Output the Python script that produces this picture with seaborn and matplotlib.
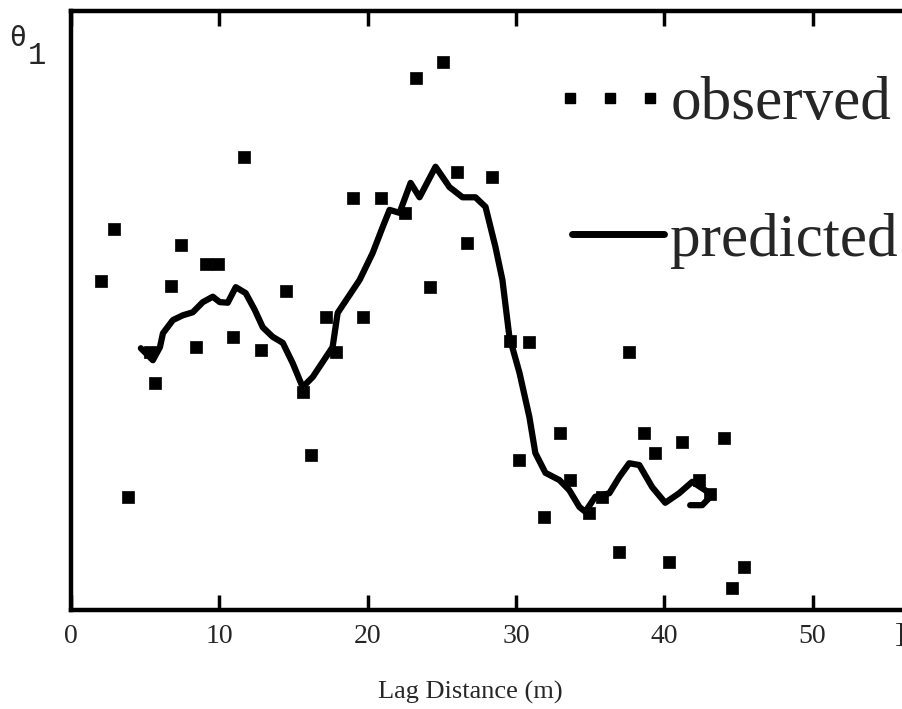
import matplotlib
matplotlib.use("Agg")
import matplotlib.pyplot as plt
from matplotlib.lines import Line2D
from matplotlib.legend_handler import HandlerLine2D
import seaborn as sns
import pandas as pd

# observed variogram points (lag distance m, theta1 in relative units)
obs_x = [2.02, 2.90, 3.84, 5.32, 5.66, 6.73, 7.41, 8.42, 9.09, 9.90, 10.91, 11.65,
         12.79, 14.48, 15.62, 16.16, 17.17, 17.85, 18.99, 19.66, 20.88, 22.49, 23.23,
         24.24, 25.05, 26.06, 26.73, 28.42, 29.63, 30.91, 30.24, 31.92, 33.00, 33.67,
         34.95, 35.82, 36.97, 37.64, 38.65, 39.39, 40.34, 41.21, 42.36, 43.10, 44.04,
         44.58, 45.39]
obs_y = [0.549, 0.636, 0.189, 0.431, 0.379, 0.541, 0.609, 0.439, 0.578, 0.578, 0.456, 0.756,
         0.434, 0.533, 0.364, 0.259, 0.489, 0.431, 0.688, 0.489, 0.688, 0.663, 0.888,
         0.539, 0.915, 0.731, 0.613, 0.723, 0.449, 0.447, 0.250, 0.155, 0.295, 0.217,
         0.162, 0.189, 0.097, 0.431, 0.295, 0.262, 0.080, 0.280, 0.217, 0.194, 0.287,
         0.037, 0.072]

# predicted curve
pred_x = [4.71, 5.52, 6.00, 6.20, 6.87, 7.54, 8.21, 8.89, 9.56, 10.03, 10.57, 11.11, 11.78,
          12.39, 12.93, 13.60, 14.28, 14.95, 15.62, 16.30, 17.64, 17.98, 19.46, 20.34,
          21.01, 21.48, 22.15, 22.90, 23.50, 24.58, 25.05, 25.52, 26.40, 27.27, 27.95,
          28.62, 29.09, 29.56, 30.24, 30.91, 31.31, 31.99, 32.93, 33.60, 34.28, 34.68,
          35.35, 36.30, 36.97, 37.64, 38.32, 39.19, 40.07, 41.01, 41.89, 42.76, 43.23,
          42.56, 41.75]
pred_y = [0.437, 0.417, 0.439, 0.462, 0.484, 0.492, 0.497, 0.514, 0.523, 0.514, 0.513, 0.539,
          0.529, 0.501, 0.472, 0.456, 0.446, 0.412, 0.372, 0.389, 0.439, 0.496, 0.551, 0.596,
          0.639, 0.668, 0.663, 0.713, 0.689, 0.740, 0.723, 0.706, 0.689, 0.689, 0.673,
          0.606, 0.551, 0.456, 0.396, 0.322, 0.262, 0.229, 0.217, 0.200, 0.172, 0.164,
          0.189, 0.195, 0.222, 0.245, 0.242, 0.205, 0.179, 0.195, 0.214, 0.200, 0.192,
          0.175, 0.175]

x_ticks = [0, 10, 20, 30, 40, 50]
x_label = "Lag Distance (m)"
legend_labels = ["observed", "predicted"]


class ShiftedMarkers(HandlerLine2D):
    """Legend handler placing the observed markers slightly left of the handle box."""

    def get_xdata(self, legend, xdescent, ydescent, width, height, fontsize):
        xd, xm = super().get_xdata(legend, xdescent, ydescent, width, height, fontsize)
        shift = -0.13 * fontsize
        return xd + shift, xm + shift


sns.set_theme(style="white")
plt.rcParams["font.family"] = ["Liberation Serif", "DejaVu Serif"]

fig = plt.figure(figsize=(9.03, 7.09), dpi=100)
ax = fig.add_axes([71 / 903, 99 / 709, 832 / 903, 599 / 709])

obs = pd.DataFrame({"x": obs_x, "y": obs_y})
pred = pd.DataFrame({"x": pred_x, "y": pred_y})

sns.lineplot(data=pred, x="x", y="y", sort=False, estimator=None, color="black",
             linewidth=4.5, ax=ax, legend=False, zorder=2)
sns.scatterplot(data=obs, x="x", y="y", marker="s", s=75, color="black",
                edgecolor="black", linewidth=0.5, ax=ax, legend=False, zorder=3)

ax.set_xlim(0, 56.1)
ax.set_ylim(0, 1.0)
ax.set_xticks(x_ticks)
ax.set_xticklabels([str(t) for t in x_ticks])
ax.set_yticks([])
ax.set_ylabel("")
ax.set_xlabel(x_label, fontsize=19)
ax.xaxis.set_label_coords((470 - 71) / 832, -0.118)

ax.tick_params(axis="x", direction="in", top=True, bottom=True, length=11, width=2.5,
               labelsize=20, pad=10, color="black")
for side in ["left", "bottom", "top"]:
    ax.spines[side].set_linewidth(3.2)
    ax.spines[side].set_color("black")
ax.spines["right"].set_visible(False)

h_obs = Line2D([], [], marker="s", linestyle="none", color="black", markersize=6.5)
h_pred = Line2D([], [], color="black", linewidth=5)
leg = ax.legend([h_obs, h_pred], legend_labels, loc="upper right",
                bbox_to_anchor=(0.994, 0.891), frameon=False, fontsize=44,
                handlelength=1.5, handletextpad=0.11, labelspacing=1.32,
                borderpad=0, borderaxespad=0,
                handler_map={h_obs: ShiftedMarkers(numpoints=3, marker_pad=0.1),
                             h_pred: HandlerLine2D(numpoints=1)})

fig.text(18 / 903, 1 - 38 / 709, "θ", fontsize=20, family="DejaVu Sans Mono",
         ha="center", va="center")
fig.text(37 / 903, 1 - 56 / 709, "1", fontsize=22, family="Liberation Mono",
         ha="center", va="center")
fig.text(899 / 903, 1 - 636 / 709, "]", fontsize=20, ha="center", va="center")

fig.savefig("out.png", dpi=100, facecolor="white")
